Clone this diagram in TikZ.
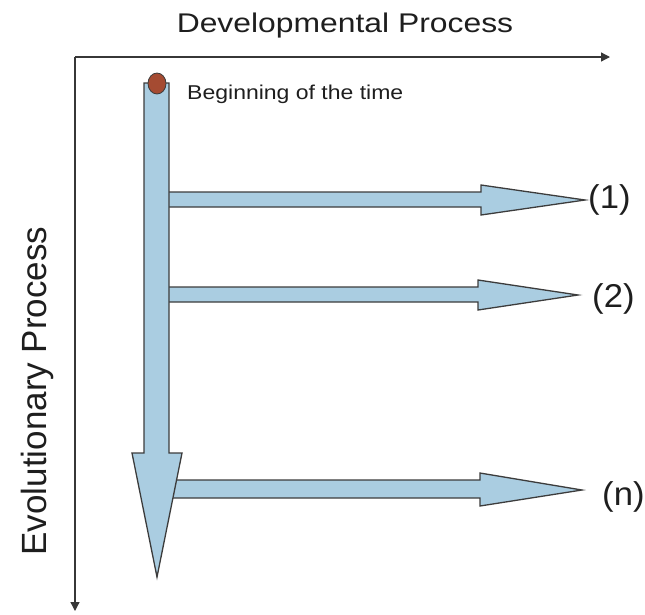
\documentclass[tikz,border=0pt]{standalone}
\usepackage{fontspec}
\setmainfont{Liberation Sans}
\usetikzlibrary{arrows.meta}
\definecolor{flowfill}{RGB}{170,205,225}
\definecolor{flowedge}{RGB}{60,60,60}
\definecolor{axisgray}{RGB}{55,55,55}
\definecolor{seedbrown}{RGB}{165,75,50}
\definecolor{inkgray}{RGB}{30,30,30}
\tikzset{
  flowarrow/.style={fill=flowfill, draw=flowedge, line width=1.3pt, line join=miter},
  axisline/.style={draw=axisgray, line width=1.3pt, -{Triangle[length=9pt,width=9pt]}},
  lbl/.style={inner sep=0pt, text=inkgray},
  branchlbl/.style={lbl, anchor=base west, xscale=1.05, font=\fontsize{33}{36}\selectfont},
}
\begin{document}
\begin{tikzpicture}[x=1pt,y=-1pt]
\useasboundingbox (0,0) rectangle (645,614);

% axes
\coordinate (origin) at (75,57);
\coordinate (devend) at (610,57);
\coordinate (evoend) at (75,611);
\draw[axisline] (origin) -- (devend);
\draw[axisline] (origin) -- (evoend);

\node[lbl, anchor=base, xscale=1.18, font=\fontsize{27}{30}\selectfont] (devlabel) at (345,32) {Developmental Process};
\node[lbl, anchor=base, rotate=90, font=\fontsize{35}{38}\selectfont] (evolabel) at (46,391) {Evolutionary Process};

% branch arrows (drawn first so the trunk overlaps their roots)
\draw[flowarrow] (160,192) -- (481,192) -- (481,185) -- (585,200) -- (481,215) -- (481,207) -- (160,207) -- cycle;
\draw[flowarrow] (160,287) -- (478,287) -- (478,280) -- (578,295) -- (478,310) -- (478,302) -- (160,302) -- cycle;
\draw[flowarrow] (160,480) -- (480,480) -- (480,473) -- (582,490) -- (480,506) -- (480,498) -- (160,498) -- cycle;

% trunk arrow
\draw[flowarrow] (144,83) -- (169,83) -- (169,453) -- (182,453) -- (157,577) -- (132,453) -- (144,453) -- cycle;

% starting point
\draw[fill=seedbrown, draw=flowedge, line width=0.8pt] (157,83.5) ellipse [x radius=9, y radius=10.5];
\node[lbl, anchor=base west, xscale=1.15, font=\fontsize{20}{24}\selectfont] (begin) at (187,99) {Beginning of the time};

% branch labels
\node[branchlbl] (b1) at (588,208) {(1)};
\node[branchlbl] (b2) at (592,307) {(2)};
\node[branchlbl] (bn) at (602,505) {(n)};
\end{tikzpicture}
\end{document}
